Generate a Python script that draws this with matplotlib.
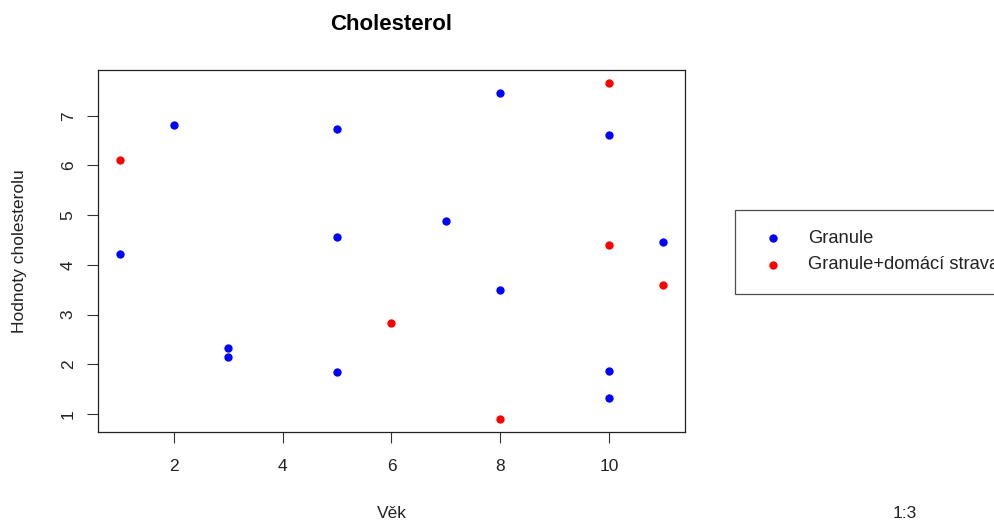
import matplotlib
matplotlib.use("Agg")
import matplotlib.pyplot as plt

plt.rcParams['font.family'] = ['Liberation Sans', 'DejaVu Sans']

# Data
granule_age = [1, 2, 3, 3, 5, 5, 5, 7, 8, 8, 10, 10, 10, 11]
granule_chol = [4.22, 6.81, 2.32, 2.15, 6.74, 4.55, 1.84, 4.89, 7.46, 3.50, 6.62, 1.87, 1.33, 4.46]
mix_age = [1, 6, 8, 10, 10, 11]
mix_chol = [6.10, 2.82, 0.90, 7.65, 4.39, 3.60]
x_ticks = [2, 4, 6, 8, 10]
y_ticks = [1, 2, 3, 4, 5, 6, 7]
labels = ["Granule", "Granule+domácí strava"]
title = "Cholesterol"
xlabel = "Věk"
ylabel = "Hodnoty cholesterolu"

W, H = 995, 520
fig = plt.figure(figsize=(W / 100, H / 100), dpi=100)
L, R, T, B = 98, 685, 70, 432.3
ax = fig.add_axes([L / W, 1 - B / H, (R - L) / W, (B - T) / H])

s1 = ax.scatter(granule_age, granule_chol, s=36, color='#0000ff', linewidths=0, label=labels[0])
s2 = ax.scatter(mix_age, mix_chol, s=36, color='#ff0000', linewidths=0, label=labels[1])

allx = granule_age + mix_age
ally = granule_chol + mix_chol
dx = (max(allx) - min(allx)) * 0.04
dy = (max(ally) - min(ally)) * 0.04
ax.set_xlim(min(allx) - dx, max(allx) + dx)
ax.set_ylim(min(ally) - dy, max(ally) + dy)

ax.set_xticks(x_ticks)
ax.set_yticks(y_ticks)
fs = 12.5
ax.tick_params(axis='both', direction='out', length=8, width=0.8, color='#333333',
               labelsize=fs, labelcolor='#222222')
ax.tick_params(axis='x', pad=11)
ax.tick_params(axis='y', pad=8)
for lab in ax.get_yticklabels():
    lab.set_rotation(90)
    lab.set_va('center')
for sp in ax.spines.values():
    sp.set_linewidth(0.9)
    sp.set_color('#222222')

ax.set_title(title, fontsize=16, fontweight='bold', pad=29)
ax.set_xlabel(xlabel, fontsize=fs, color='#222222')
ax.xaxis.set_label_coords(0.5, (B - 513) / (B - T))
ax.xaxis.label.set_va('center')
ax.set_ylabel(ylabel, fontsize=fs, color='#222222')
ax.yaxis.set_label_coords((20 - L) / (R - L), 0.5)
ax.yaxis.label.set_va('center')

fig.text(905 / W, 1 - 513 / H, "1:3", fontsize=fs, color='#222222', ha='center', va='center')

lfs = 13.2
leg = fig.legend(handles=[s1, s2], labels=labels, loc='upper left',
                 bbox_to_anchor=(735 / W, 1 - 210 / H), bbox_transform=fig.transFigure,
                 borderaxespad=0, fontsize=lfs, frameon=True, fancybox=False,
                 borderpad=1.1, handlelength=1.9, handletextpad=1.0, labelspacing=0.5,
                 scatterpoints=1)
leg.get_frame().set_edgecolor('#222222')
leg.get_frame().set_linewidth(0.9)
for t in leg.get_texts():
    t.set_color('#222222')

fig.savefig("out.png", dpi=100)
